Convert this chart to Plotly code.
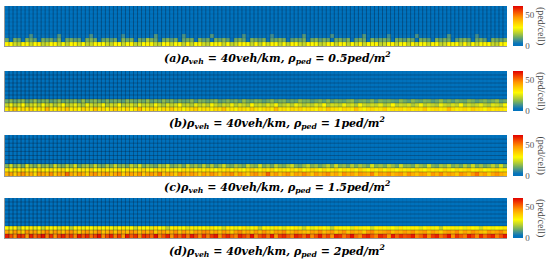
import plotly.graph_objects as go

# ---------------- data (ped/cell), rows listed bottom (row 0) upward ----------------
NCOL = 125
NROW = 10

# panel (a) rho_ped = 0.5
a_row0 = [31,30,24,22,31,29,23,30,32,22,24,30,31,23,29,22,30,31,24,30,22,23,31,29,30,
          24,22,31,30,23,29,31,22,24,30,31,29,23,22,30,31,24,30,29,22,31,23,30,31,24,
          22,30,29,31,23,30,22,24,31,30,29,23,31,22,30,24,31,30,23,29,22,31,30,24,23,
          31,30,29,22,24,31,30,23,31,29,22,30,24,31,23,30,29,31,22,24,30,31,23,29,30,
          22,31,24,30,29,23,31,30,22,24,31,29,30,23,31,22,30,24,29,31,30,23,22,31,30]
a_row1 = [14,3,15,13,4,16,14,12,3,15,13,14,9,16,3,14,15,12,13,4,15,16,14,3,13,
          15,12,14,4,16,13,15,3,14,12,20,15,13,4,14,16,12,15,3,13,14,15,4,16,12,
          14,3,15,13,16,12,4,14,15,13,3,16,14,12,15,4,13,14,16,15,3,12,14,13,15,
          4,14,16,12,15,13,3,14,15,12,16,4,13,15,14,3,16,12,14,15,13,4,15,14,12,
          16,13,3,15,14,12,4,16,13,15,14,3,12,15,16,13,4,14,15,12,3,16,14,13,15]
a_row2 = [2,1,3,2,1,2,10,2,1,3,2,2,1,11,2,3,1,2,2,1,3,10,2,1,2,
          3,2,1,2,9,1,3,2,2,1,2,3,11,1,2,2,3,1,2,10,2,1,3,2,1,
          2,11,2,1,3,2,1,2,2,10,3,1,2,2,1,3,9,2,1,2,2,3,1,2,11,
          1,2,3,2,1,2,10,2,3,1,2,2,1,3,11,2,1,2,3,2,9,1,2,2,3,
          2,1,10,2,3,1,2,2,1,3,11,2,1,2,2,3,1,9,2,1,2,3,2,1,2]

# panel (b) rho_ped = 1
b_row0 = [33,35,40,32,36,34,38,31,35,33,41,34,32,36,35,39,33,34,31,37,35,33,40,34,36,
          32,35,38,34,33,36,31,35,41,33,34,37,35,32,36,34,39,33,35,31,34,36,38,33,35,
          34,32,36,35,40,33,34,31,36,35,33,38,34,32,35,36,33,41,34,35,32,36,34,37,33,
          35,34,31,36,33,39,35,34,32,36,35,33,40,34,31,35,36,33,34,38,32,35,34,36,33,
          36,33,35,34,39,32,35,36,33,34,41,35,32,34,36,33,38,35,34,31,36,33,35,34,32]
b_row1 = [22,28,21,24,30,20,23,26,21,29,22,25,20,24,30,21,23,27,22,20,28,24,21,23,29,
          20,24,22,30,21,23,25,20,28,22,24,21,29,23,20,26,22,24,30,21,23,20,27,22,25,
          21,29,23,20,24,22,28,21,25,23,20,30,22,24,21,26,23,29,20,22,25,21,28,24,20,
          23,21,26,22,30,20,24,23,21,28,22,25,20,29,23,21,24,22,27,20,23,30,21,24,22,
          25,20,23,29,21,24,22,20,28,23,21,25,22,30,20,24,21,23,27,22,20,26,24,21,29]
b_row2 = [14,16,13,15,17,12,14,18,13,15,16,12,14,17,13,15,14,16,12,18,13,15,17,14,12,
          16,13,15,14,12,17,15,13,16,14,18,12,15,13,17,14,16,12,15,13,14,17,12,16,15,
          13,15,17,12,14,16,13,15,12,18,14,13,16,15,12,14,17,13,15,16,12,14,13,18,15,
          15,12,14,16,13,17,12,15,14,13,16,18,12,14,15,13,17,12,16,14,15,13,12,17,14,
          12,17,14,13,16,15,12,14,18,13,15,12,16,14,13,17,15,12,14,16,13,15,18,12,14]

# panel (c) rho_ped = 1.5
c_row0 = [42,45,38,44,47,40,43,36,46,44,41,48,39,45,42,52,44,40,46,43,37,45,47,41,44,
          46,40,44,48,38,43,45,41,47,39,44,46,42,50,40,45,43,38,47,44,41,46,43,39,45,
          41,47,43,39,45,44,48,40,46,42,38,45,47,41,44,53,42,46,40,44,47,39,45,43,48,
          44,39,46,42,45,48,41,44,38,47,43,45,40,46,44,42,49,38,45,43,47,41,44,46,40,
          47,43,40,45,44,38,46,42,48,41,45,43,39,47,44,40,46,51,42,45,38,44,47,43,41]
c_row1 = [33,30,35,31,36,32,34,30,37,33,31,35,32,34,36,30,33,35,31,34,32,37,30,33,35,
          31,34,32,36,30,35,33,31,34,37,32,30,35,33,36,31,34,32,30,35,33,36,31,34,32,
          35,32,30,34,33,36,31,35,32,30,34,37,33,31,35,32,36,30,34,33,31,35,32,37,30,
          32,36,34,30,35,31,33,36,30,34,32,35,31,37,33,30,34,32,36,31,35,33,30,34,32,
          34,31,36,33,30,35,32,34,31,36,33,30,35,32,34,37,31,33,35,30,32,34,36,31,33]
c_row2 = [16,24,15,20,14,25,18,15,22,16,19,14,24,17,15,21,16,25,14,18,20,15,23,16,14,
          20,15,23,16,18,14,22,17,25,15,19,16,14,21,18,24,15,17,20,14,23,16,19,15,22,
          15,21,14,18,24,16,15,20,17,14,23,18,16,25,15,19,14,22,17,15,20,24,16,14,18,
          23,16,19,14,17,22,15,24,16,18,14,21,15,20,17,14,25,16,19,15,22,18,14,24,16,
          17,14,22,18,15,25,16,14,20,17,23,15,18,14,21,16,24,15,19,14,17,22,16,25,15]

# panel (d) rho_ped = 2
d_row0 = [62,55,48,60,58,46,61,52,57,63,50,59,47,56,61,53,58,49,62,55,60,51,57,63,48,
          56,61,50,58,46,62,54,59,48,60,57,52,63,49,55,61,47,58,53,60,51,62,56,48,59,
          50,58,62,47,56,60,53,49,61,57,52,63,48,55,59,51,62,46,57,60,54,49,61,58,52,
          60,48,55,62,51,57,47,61,59,50,56,63,52,48,58,61,54,49,60,57,46,62,53,59,55,
          57,62,49,53,60,48,58,61,51,56,63,47,59,54,50,62,57,48,60,52,58,61,49,55,62]
d_row1 = [44,40,46,42,38,47,43,45,39,44,48,41,46,43,40,45,47,42,38,44,46,41,43,48,40,
          42,46,39,45,43,41,47,44,40,46,42,48,38,44,45,41,43,47,40,46,42,39,45,44,48,
          47,41,44,40,46,43,38,45,48,42,44,40,46,41,47,43,39,45,44,48,40,42,46,43,41,
          40,45,43,48,41,44,46,39,43,47,40,45,42,44,38,46,48,41,43,45,47,40,44,42,46,
          43,47,41,44,46,40,45,42,38,44,46,43,48,40,45,42,47,44,41,39,46,43,45,48,42]
d_row2 = [30,28,32,22,31,29,33,27,30,24,32,29,31,26,33,30,22,29,32,28,31,30,27,33,29,
          32,29,26,31,33,28,30,23,32,29,31,27,34,30,28,22,31,33,29,30,26,32,28,31,30,
          28,33,30,29,24,32,31,28,30,33,27,29,32,22,30,31,28,33,29,26,31,30,32,28,23,
          31,27,29,33,30,28,22,32,31,29,30,26,33,28,31,30,24,29,32,31,28,30,27,33,29,
          29,32,31,26,30,33,28,31,22,30,29,32,28,31,27,33,30,29,24,32,31,28,30,29,33]

empty_row = [0] * NCOL

captions = [
    "(a)ρ<sub>veh</sub> = 40veh/km, ρ<sub>ped</sub> = 0.5ped/m<sup>2</sup>",
    "(b)ρ<sub>veh</sub> = 40veh/km, ρ<sub>ped</sub> = 1ped/m<sup>2</sup>",
    "(c)ρ<sub>veh</sub> = 40veh/km, ρ<sub>ped</sub> = 1.5ped/m<sup>2</sup>",
    "(d)ρ<sub>veh</sub> = 40veh/km, ρ<sub>ped</sub> = 2ped/m<sup>2</sup>",
]
cbar_ticks = [0, 50]
cbar_title = "(ped/cell)"
ZMAX = 65

panels = [
    [a_row0, a_row1, a_row2],
    [b_row0, b_row1, b_row2],
    [c_row0, c_row1, c_row2],
    [d_row0, d_row1, d_row2],
]
grids = []
for rows in panels:
    for r in rows:
        assert len(r) == NCOL, len(r)
    grids.append(rows + [empty_row] * (NROW - len(rows)))

# ---------------- styling ----------------
W, H = 549, 261
colorscale = [
    [0.00, "rgb(0,114,189)"],
    [0.06, "rgb(8,116,186)"],
    [0.14, "rgb(60,142,150)"],
    [0.22, "rgb(112,172,100)"],
    [0.33, "rgb(185,208,48)"],
    [0.46, "rgb(255,250,0)"],
    [0.60, "rgb(255,200,0)"],
    [0.72, "rgb(255,150,0)"],
    [0.86, "rgb(245,75,0)"],
    [1.00, "rgb(225,0,0)"],
]
heat_y = [(6, 46), (71, 111), (135, 176), (198, 238)]
cap_y = [58, 123, 187, 251]
X0, X1 = 5, 507
CB_X = 513

serif = "DejaVu Serif"
fig = go.Figure()
shapes = []
for i, z in enumerate(grids):
    n = i + 1
    xa = "x" if n == 1 else f"x{n}"
    ya = "y" if n == 1 else f"y{n}"
    top, bot = heat_y[i]
    fig.add_trace(go.Heatmap(
        z=z, x=list(range(NCOL)), y=list(range(NROW)),
        xaxis=xa, yaxis=ya,
        colorscale=colorscale, zmin=0, zmax=ZMAX,
        showscale=True,
        colorbar=dict(
            x=CB_X / W, xanchor="left", xpad=0, ypad=0,
            y=1 - (top + bot) / 2 / H, yanchor="middle",
            len=(bot - top) / H, lenmode="fraction",
            thickness=10, outlinewidth=0,
            tickvals=cbar_ticks, ticks="",
            tickfont=dict(family="Liberation Serif", size=9, color="#555"),
        ),
        hoverinfo="skip",
    ))
    layout_x = "xaxis" if n == 1 else f"xaxis{n}"
    layout_y = "yaxis" if n == 1 else f"yaxis{n}"
    fig.update_layout(**{
        layout_x: dict(domain=[X0 / W, X1 / W], anchor=ya, range=[-0.5, NCOL - 0.5],
                       showticklabels=False, ticks="", showgrid=False, zeroline=False,
                       showline=True, linecolor="#999", linewidth=1),
        layout_y: dict(domain=[1 - bot / H, 1 - top / H], anchor=xa, range=[-0.5, NROW - 0.5],
                       showticklabels=False, ticks="", showgrid=False, zeroline=False,
                       showline=True, linecolor="#999", linewidth=1),
    })
    for c in range(1, NCOL):
        frac = c / NCOL
        if i == 0:
            op = 0.35
        else:
            op = max(0.05, 0.42 - 0.5 * frac)
        shapes.append(dict(type="line", xref=xa, yref=ya, x0=c - 0.5, x1=c - 0.5,
                           y0=-0.5, y1=NROW - 0.5,
                           line=dict(color="rgb(10,20,40)", width=1), opacity=op, layer="above"))
    for r in range(1, NROW):
        shapes.append(dict(type="line", xref=xa, yref=ya, x0=-0.5, x1=NCOL - 0.5,
                           y0=r - 0.5, y1=r - 0.5,
                           line=dict(color="rgb(10,20,40)", width=1),
                           opacity=0.1 if i == 0 else 0.3, layer="above"))

annotations = []
for i in range(4):
    top, bot = heat_y[i]
    annotations.append(dict(
        text="<b><i>" + captions[i] + "</i></b>", xref="paper", yref="paper",
        x=277 / W, y=1 - cap_y[i] / H, xanchor="center", yanchor="middle",
        showarrow=False, font=dict(family=serif, size=11, color="black"),
    ))
    annotations.append(dict(
        text=cbar_title, xref="paper", yref="paper",
        x=541 / W, y=1 - (top + bot) / 2 / H, xanchor="center", yanchor="middle",
        textangle=90, showarrow=False,
        font=dict(family="Liberation Serif", size=10, color="#444"),
    ))

fig.update_layout(
    width=W, height=H, margin=dict(l=0, r=0, t=0, b=0, autoexpand=False),
    paper_bgcolor="white", plot_bgcolor="white",
    shapes=shapes, annotations=annotations, showlegend=False,
)
fig.write_html("out.html", config={"displayModeBar": False},
               post_script="document.body.style.margin='0';document.body.style.overflow='hidden';")
